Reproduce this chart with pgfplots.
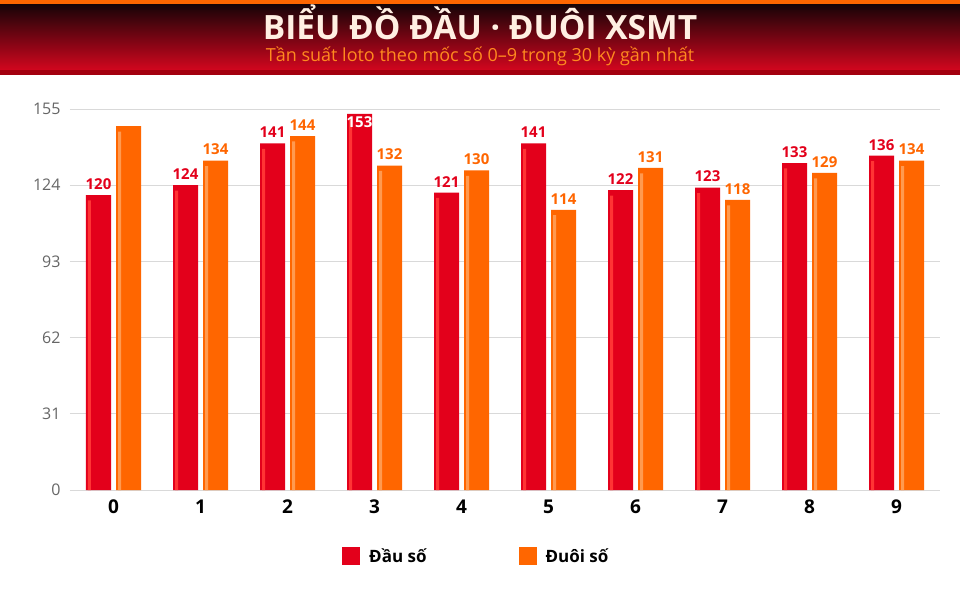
\documentclass[border=0pt]{standalone}
\usepackage{pgfplots}
\pgfplotsset{compat=1.18}
\usepackage{pgfplotstable}
\usepackage{fontspec}
\setmainfont{Open Sans}

\definecolor{barred}{HTML}{E3001B}
\definecolor{barorange}{HTML}{FF6600}
\definecolor{hired}{HTML}{FF3434}
\definecolor{hiorange}{HTML}{FF9A50}
\definecolor{hdrtop}{HTML}{160407}
\definecolor{hdrbot}{HTML}{D2061E}
\definecolor{hdrband}{HTML}{A3000F}
\definecolor{titlecol}{HTML}{FFEFE2}
\definecolor{subcol}{HTML}{FF8A1F}
\definecolor{gridgray}{HTML}{D9D9D9}
\definecolor{ticktext}{HTML}{666666}

% x = chu so, d = dau, t = duoi
\pgfplotstableread{
x d t
0 120 148
1 124 134
2 141 144
3 153 132
4 121 130
5 141 114
6 122 131
7 123 118
8 133 129
9 136 134
}\loto

% nhan gia tri: neu cot qua cao thi in trang, ha xuong trong cot
\newcommand\vallabel[2]{%
  \ifdim\rawy pt>#1pt\relax
    \smash{\raisebox{#2}{\textcolor{white}{\pgfmathprintnumber[fixed,precision=0]{\rawy}}}}%
  \else
    \pgfmathprintnumber[fixed,precision=0]{\rawy}%
  \fi}

\begin{document}
\begin{tikzpicture}[x=1pt,y=1pt]
% canvas: image px (0..960, 0..600) -> (-70..890, 490..-110)
\path[use as bounding box] (-70,-110) rectangle (890,490);
\fill[white] (-70,-110) rectangle (890,490);
% header
\shade[top color=hdrtop, bottom color=hdrbot] (-70,420) rectangle (890,486);
\fill[barorange] (-70,486) rectangle (890,490);
\fill[hdrband] (-70,415) rectangle (890,420);
\node[text=titlecol, font=\fontsize{33.5}{33.5}\selectfont\bfseries] at (410,468) {BIỂU ĐỒ ĐẦU · ĐUÔI XSMT};
\node[text=subcol, font=\fontsize{18}{18}\selectfont] at (410,434) {Tần suất loto theo mốc số 0–9 trong 30 kỳ gần nhất};

\begin{axis}[
    scale only axis,
    width=870pt, height=381pt,
    xmin=-0.5, xmax=9.5,
    ymin=0, ymax=155,
    ytick={0,31,62,93,124,155},
    xtick={0,...,9},
    axis lines=left,
    axis line style={draw=none},
    major tick length=0pt,
    ymajorgrids,
    grid style={gridgray, line width=0.8pt},
    ybar,
    /pgf/number format/assume math mode=true,
    yticklabel style={text=ticktext, font=\fontsize{16}{16}\selectfont, xshift=-6pt},
    xticklabel style={text=black, font=\fontsize{19}{19}\selectfont\bfseries, yshift=-6pt},
    legend style={at={(axis description cs:0.3126,-0.1732)}, anchor=west,
        draw=none, fill=none, legend columns=2,
        inner sep=0pt,
        font=\fontsize{17}{17}\selectfont\bfseries,
        /tikz/every odd column/.append style={column sep=7pt},
        /tikz/every even column/.append style={column sep=90pt}},
    legend cell align=left,
    clip=false,
]
\addplot[ybar, bar width=25pt, bar shift=-15pt, fill=barred, draw=none,
    visualization depends on={rawy \as \rawy},
    nodes near coords={\vallabel{150}{-19pt}},
    every node near coord/.append style={text=barred, font=\fontsize{15}{15}\selectfont\bfseries, yshift=2pt},
    legend image code/.code={\fill[barred] (0pt,-9pt) rectangle (18pt,9pt);}]
    table[x=x, y=d] {\loto};
\addlegendentry{Đầu số}
\addplot[ybar, bar width=25pt, bar shift=15pt, fill=barorange, draw=none,
    visualization depends on={rawy \as \rawy},
    nodes near coords={\vallabel{145}{-5pt}},
    every node near coord/.append style={text=barorange, font=\fontsize{15}{15}\selectfont\bfseries, yshift=2pt},
    legend image code/.code={\fill[barorange] (0pt,-9pt) rectangle (18pt,9pt);}]
    table[x=x, y=t] {\loto};
\addlegendentry{Đuôi số}
% highlight stripes on the left of each bar
\addplot[ybar, bar width=3pt, bar shift=-24pt, fill=hired, draw=none, forget plot]
    table[x=x, y expr=\thisrow{d}-2.2] {\loto};
\addplot[ybar, bar width=3pt, bar shift=6pt, fill=hiorange, draw=none, forget plot]
    table[x=x, y expr=\thisrow{t}-2.2] {\loto};
\end{axis}
\end{tikzpicture}
\end{document}
